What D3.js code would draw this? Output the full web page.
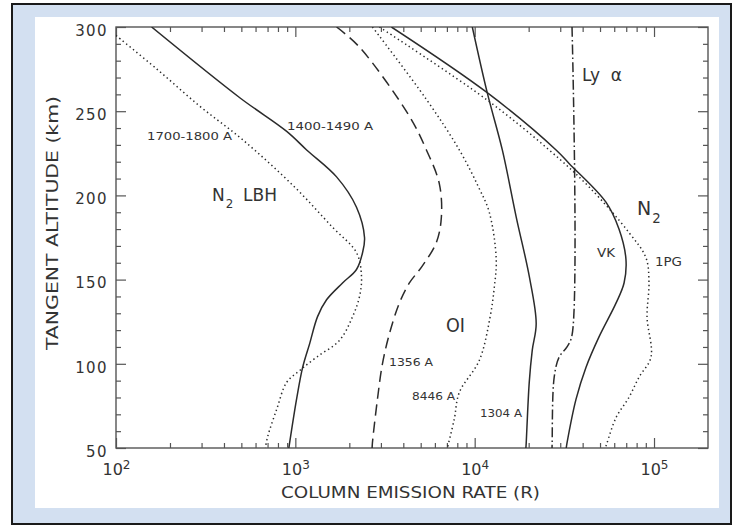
<!DOCTYPE html>
<html>
<head>
<meta charset="utf-8">
<script src="https://cdn.jsdelivr.net/npm/d3@7"></script>
<style>
  body { margin: 0; background: #fff; }
  text { font-family: "DejaVu Sans", sans-serif; fill: #333; }
</style>
</head>
<body>
<div id="chart"></div>
<script>
var width = 734,
    height = 525;

// plot box (note: "top" is reserved on window, so use prefixed names)
var plotLeft = 116, plotRight = 708, plotTop = 27, plotBottom = 448;

// DATA: [column emission rate (R), tangent altitude (km)]
var lbh1400 = [[158,300],[490,258],[895,238],[1156,227],[1698,211],[2193,193],[2431,175],[2370,166],[2193,156],
               [1833,148],[1493,138],[1330,128],[1202,112],[1099,98],[1016,79],[920,50]];
var lbh1700 = [[100,295],[169,275],[293,253],[509,233],[990,205],[1615,181],[2193,166],[2338,152],[2280,140],
               [2085,128],[1766,114],[1315,104],[1057,96],[895,89],[787,73],[702,57],[680,50]];
var oi1356 = [[1698,300],[2280,288],[4325,247],[5380,227],[6350,207],[6520,187],[6110,172],[5100,158],[4325,148],
              [3800,136],[3350,118],[3060,100],[2870,79],[2690,53],[2680,50]];
var oi8446 = [[2690,300],[5380,257],[8210,227],[10500,205],[12060,190],[13190,162],[12850,145],[12200,128],
              [10610,102],[8210,83],[7690,67],[7040,50]];
var oi1304 = [[9700,300],[11750,261],[14260,227],[17060,187],[20150,152],[22030,124],[20940,108],[20150,89],
              [19380,53],[19300,50]];
var lyAlpha = [[34900,300],[34900,117],[32730,110],[29580,104],[27750,92],[27040,53],[27000,50]];
var n2VK = [[3435,300],[11750,261],[28440,227],[33600,219],[53950,196],[63780,180],[69750,162],[68070,148],
            [61380,136],[49350,116],[41780,98],[36750,79],[32730,53],[32400,50]];
var n21PG = [[2945,300],[11610,257],[26000,227],[43450,205],[72440,178],[90150,163],[93760,148],[91410,128],
             [96200,104],[82430,92],[72440,80],[61380,68],[54700,53],[53500,50]];

var xDomain = [100, 2e5],
    yDomain = [50, 300];

var xMajor = [1e2, 1e3, 1e4, 1e5],
    yMajor = [50, 100, 150, 200, 250, 300];

var xMinor = [];
[1e2, 1e3, 1e4].forEach(function(d) { d3.range(2, 10).forEach(function(m) { xMinor.push(d * m); }); });
var yMinor = d3.range(50, 301, 10).filter(function(v) { return v % 50 != 0; });

// line styles
var series = [
  {data: lbh1400, dash: null},
  {data: lbh1700, dash: "1.4,3"},
  {data: oi1356,  dash: "11,6"},
  {data: oi8446,  dash: "1.4,3"},
  {data: oi1304,  dash: null},
  {data: lyAlpha, dash: "10,3,1.6,3"},
  {data: n2VK,    dash: null},
  {data: n21PG,   dash: "1.4,3"}
];

// scales
var x = d3.scaleLog().domain(xDomain).range([plotLeft, plotRight]);
var y = d3.scaleLinear().domain(yDomain).range([plotBottom, plotTop]);

var svg = d3.select("#chart")
  .append("svg")
  .attr("width", width)
  .attr("height", height);

// FRAME
svg.append("rect")
  .attr("x", 12).attr("y", 4)
  .attr("width", 719).attr("height", 520)
  .style("fill", "#d3e0f1")
  .style("stroke", "#1a1a1a")
  .style("stroke-width", 2);

svg.append("rect")
  .attr("x", 35).attr("y", 17)
  .attr("width", 684).attr("height", 491)
  .style("fill", "#fff");

// AXES (ticks point inward on all four sides)
function styleAxis(g) {
  g.select(".domain").remove();
  g.selectAll("line").style("stroke", "#555").style("stroke-width", 1.2);
}

svg.append("g").attr("transform", "translate(0," + plotBottom + ")")
  .call(d3.axisBottom(x).tickValues(xMinor).tickSize(-5).tickFormat(""))
  .call(styleAxis);
svg.append("g").attr("transform", "translate(0," + plotTop + ")")
  .call(d3.axisTop(x).tickValues(xMinor).tickSize(-5).tickFormat(""))
  .call(styleAxis);
svg.append("g").attr("transform", "translate(0," + plotTop + ")")
  .call(d3.axisTop(x).tickValues(xMajor).tickSize(-10).tickFormat(""))
  .call(styleAxis);

var gx = svg.append("g").attr("transform", "translate(0," + plotBottom + ")")
  .call(d3.axisBottom(x).tickValues(xMajor).tickSize(-10).tickPadding(16))
  .call(styleAxis);

// 10^n labels
gx.selectAll(".tick text")
  .style("font-size", "16px")
  .style("fill", "#333")
  .text("10")
  .append("tspan")
  .attr("dy", "-0.55em")
  .style("font-size", "12px")
  .text(function(d) { return Math.round(Math.log10(d)); });

svg.append("g").attr("transform", "translate(" + plotLeft + ",0)")
  .call(d3.axisLeft(y).tickValues(yMinor).tickSize(-5).tickFormat(""))
  .call(styleAxis);
svg.append("g").attr("transform", "translate(" + plotRight + ",0)")
  .call(d3.axisRight(y).tickValues(yMinor).tickSize(-5).tickFormat(""))
  .call(styleAxis);
svg.append("g").attr("transform", "translate(" + plotRight + ",0)")
  .call(d3.axisRight(y).tickValues(yMajor).tickSize(-10).tickFormat(""))
  .call(styleAxis);

var gy = svg.append("g").attr("transform", "translate(" + plotLeft + ",0)")
  .call(d3.axisLeft(y).tickValues(yMajor).tickSize(-10).tickPadding(8))
  .call(styleAxis);

gy.selectAll(".tick text")
  .attr("dy", "0.55em")
  .style("font-size", "15px")
  .style("letter-spacing", "1.4px")
  .style("fill", "#333");

// box
svg.append("rect")
  .attr("x", plotLeft).attr("y", plotTop)
  .attr("width", plotRight - plotLeft).attr("height", plotBottom - plotTop)
  .style("fill", "none")
  .style("stroke", "#555")
  .style("stroke-width", 1.4);

// axis titles
svg.append("text")
  .attr("x", 281).attr("y", 498)
  .attr("textLength", 259)
  .attr("lengthAdjust", "spacingAndGlyphs")
  .style("font-size", "16px")
  .text("COLUMN EMISSION RATE (R)");

svg.append("text")
  .attr("transform", "translate(58,350) rotate(-90)")
  .attr("textLength", 254)
  .attr("lengthAdjust", "spacingAndGlyphs")
  .style("font-size", "16px")
  .text("TANGENT ALTITUDE (km)");

// CURVES
svg.append("clipPath").attr("id", "plotclip")
  .append("rect")
  .attr("x", plotLeft).attr("y", plotTop)
  .attr("width", plotRight - plotLeft).attr("height", plotBottom - plotTop);

var line = d3.line()
  .x(function(d) { return x(d[0]); })
  .y(function(d) { return y(d[1]); })
  .curve(d3.curveCatmullRom.alpha(0.5));

svg.append("g")
  .attr("clip-path", "url(#plotclip)")
  .selectAll("path")
  .data(series)
  .enter().append("path")
  .attr("d", function(s) { return line(s.data); })
  .style("fill", "none")
  .style("stroke", "#2b2b2b")
  .style("stroke-width", 1.5)
  .style("stroke-dasharray", function(s) { return s.dash; });

// LABELS
var labels = [
  {t: "1700-1800 A", x: 147, y: 140, s: 11, w: 85},
  {t: "1400-1490 A", x: 287, y: 130, s: 11, w: 86},
  {t: "1356 A", x: 389, y: 366, s: 11, w: 44},
  {t: "8446 A", x: 412, y: 400, s: 11, w: 43},
  {t: "1304 A", x: 480, y: 417, s: 11, w: 42},
  {t: "VK", x: 597, y: 257, s: 12, w: 18},
  {t: "1PG", x: 655, y: 266, s: 12, w: 27},
  {t: "OI", x: 446, y: 332, s: 19, w: 19},
  {t: "LBH", x: 243, y: 201, s: 17, w: 34}
];

svg.selectAll(".lab")
  .data(labels)
  .enter().append("text")
  .attr("class", "lab")
  .attr("x", function(d) { return d.x; })
  .attr("y", function(d) { return d.y; })
  .attr("textLength", function(d) { return d.w; })
  .attr("lengthAdjust", "spacingAndGlyphs")
  .style("font-size", function(d) { return d.s + "px"; })
  .text(function(d) { return d.t; });

// N2 labels with subscript
function n2(xp, yp, size) {
  var t = svg.append("text").attr("x", xp).attr("y", yp).style("font-size", size + "px");
  t.append("tspan").text("N");
  t.append("tspan").attr("dy", "0.6em").attr("dx", "1").style("font-size", (size * 0.7) + "px").text("2");
}
n2(212, 201, 17);
n2(637, 215, 19);

svg.append("text")
  .attr("x", 582).attr("y", 81)
  .style("font-size", "17px")
  .text("Ly\u00a0\u00a0\u03b1");
</script>
</body>
</html>
